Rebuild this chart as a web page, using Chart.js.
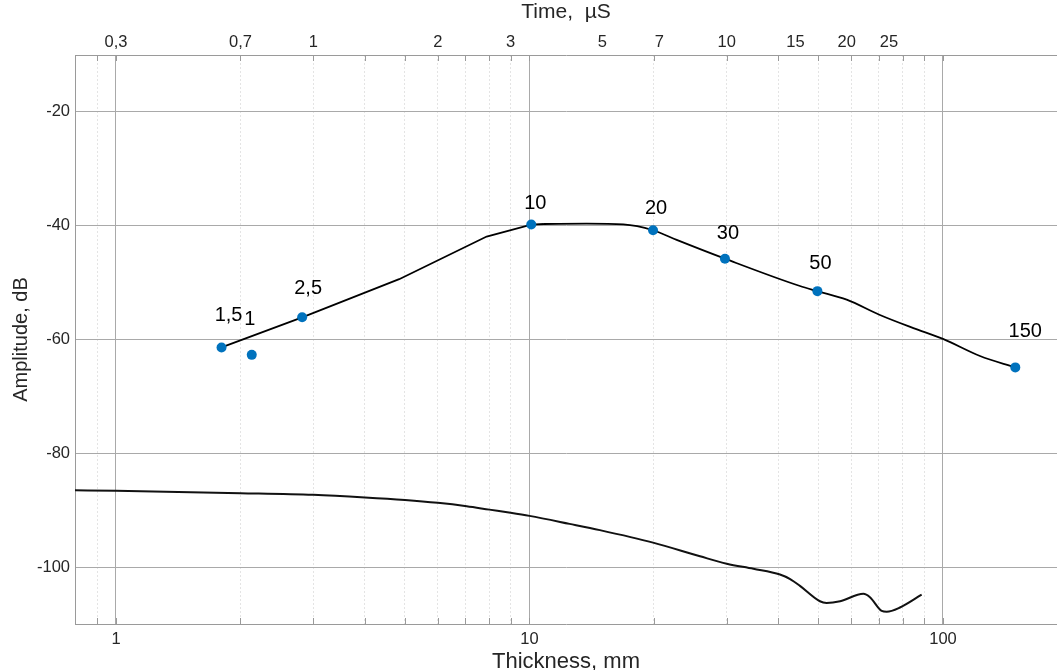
<!DOCTYPE html>
<html><head><meta charset="utf-8">
<script src="https://cdn.jsdelivr.net/npm/chart.js@4.4.0/dist/chart.umd.min.js"></script>
<style>html,body{margin:0;padding:0;background:#fff;}#wrap{width:1057px;height:670px;}</style>
</head><body><div id="wrap"><canvas id="c" width="1057" height="670"></canvas></div>
<script>
// ---- axis ranges and ticks ----
const xLimits = [0.796, 188.7];
const yLimits = [-110, -10];
const bottomTicks = [0.9, 1, 2, 3, 4, 5, 6, 7, 8, 9, 10, 20, 30, 40, 50, 60, 70, 80, 90, 100];
const bottomMajor = [1, 10, 100];
const topTickPositions = [1, 2, 3, 6, 9, 15, 20.6, 30, 44, 58.5, 74];
const topTickLabels = ['0,3', '0,7', '1', '2', '3', '5', '7', '10', '15', '20', '25'];
const yTicks = [-100, -80, -60, -40, -20];

// ---- measured points (blue) ----
const pointThickness = [1.80, 2.13, 2.82, 10.1, 19.9, 29.7, 49.7, 149.6];
const pointAmplitude = [-61.4, -62.7, -56.1, -39.8, -40.8, -45.8, -51.5, -64.9];
const pointLabels = ['1,5', '1', '2,5', '10', '20', '30', '50', '150'];

// ---- upper curve (straight part up to the plateau, smooth afterwards) ----
const upperThickness = [1.80, 2.82, 4.84, 7.88, 10.1, 10.84, 13.75, 16.86, 19.9, 22.7, 29.7, 45.1, 49.7, 58.5, 70.4, 84.8, 100, 122.9, 149.6];
const upperAmplitude = [-61.4, -56.1, -49.4, -41.9, -39.8, -39.7, -39.65, -39.77, -40.8, -42.5, -45.8, -50.6, -51.5, -53.0, -55.7, -58.0, -59.9, -62.9, -64.9];
const upperBreak = 5; // index where the curve turns smooth

// ---- lower curve ----
const lowerThickness = [0.79, 1.0, 2.0, 3.0, 4.0, 5.0, 6.0, 7.05, 8.0, 9.0, 10, 12.5, 14.8, 19.9, 25.85, 30.0, 34.8, 40.35, 42.7, 45.1, 50.4, 52.3, 56.4, 64.2, 66.6, 71.1, 73.1, 78.7, 88.8];
const lowerAmplitude = [-86.5, -86.6, -87.0, -87.3, -87.75, -88.2, -88.7, -89.3, -89.9, -90.45, -91.0, -92.4, -93.5, -95.7, -98.1, -99.4, -100.3, -101.3, -102.1, -103.3, -106.0, -106.3, -106.0, -104.7, -105.3, -107.7, -107.85, -107.1, -104.85];

const FONT = '"Liberation Sans", Arial, Helvetica, sans-serif';
const TXT = '#262626';
const GRID_MAJOR = '#a9a9a9';
const GRID_MINOR = '#e4e4e4';
const AXIS = '#9a9a9a';

const toXY = (xs, ys) => xs.map((x, i) => ({x: x, y: ys[i]}));
const upperXY = toXY(upperThickness, upperAmplitude);

const extras = {
  id: 'extras',
  afterDatasetsDraw(chart, args, opts) {
    const ctx = chart.ctx;
    const meta = chart.getDatasetMeta(0);
    ctx.save();
    ctx.font = '20px ' + FONT;
    ctx.fillStyle = '#000';
    ctx.textAlign = 'center';
    ctx.textBaseline = 'middle';
    meta.data.forEach((el, i) => {
      const o = opts.labelOffsets[i] || [0, -25];
      ctx.fillText(pointLabels[i], el.x + o[0], el.y + o[1]);
    });
    ctx.restore();
  },
  afterDraw(chart, args, opts) {
    const ctx = chart.ctx;
    const xs = chart.scales.x;
    const a = chart.chartArea;
    ctx.save();
    ctx.strokeStyle = AXIS;
    ctx.lineWidth = 1;
    bottomTicks.forEach(v => {
      const px = Math.round(xs.getPixelForValue(v)) + 0.5;
      ctx.beginPath();
      ctx.moveTo(px, a.top); ctx.lineTo(px, a.top + opts.tickLen);
      ctx.moveTo(px, a.bottom); ctx.lineTo(px, a.bottom - opts.tickLen);
      ctx.stroke();
    });
    ctx.restore();
  }
};

new Chart(document.getElementById('c'), {
  type: 'scatter',
  data: {
    datasets: [
      {
        label: 'points',
        data: toXY(pointThickness, pointAmplitude),
        backgroundColor: '#0072BD',
        borderColor: '#0072BD',
        pointRadius: 5,
        pointBorderWidth: 0,
        showLine: false,
        order: 0
      },
      {
        label: 'upper (rise)',
        data: upperXY.slice(0, upperBreak + 1),
        showLine: true,
        borderColor: '#000',
        borderWidth: 1.8,
        pointRadius: 0,
        tension: 0,
        order: 1
      },
      {
        label: 'upper (fall)',
        data: upperXY.slice(upperBreak),
        showLine: true,
        borderColor: '#000',
        borderWidth: 1.8,
        pointRadius: 0,
        cubicInterpolationMode: 'monotone',
        order: 1
      },
      {
        label: 'lower',
        data: toXY(lowerThickness, lowerAmplitude),
        showLine: true,
        borderColor: '#111',
        borderWidth: 2,
        pointRadius: 0,
        cubicInterpolationMode: 'monotone',
        order: 1
      }
    ]
  },
  options: {
    responsive: false,
    animation: false,
    devicePixelRatio: 1,
    layout: {padding: 0, autoPadding: false},
    plugins: {
      legend: {display: false},
      tooltip: {enabled: false},
      extras: {
        tickLen: 6,
        labelOffsets: [[7, -32], [-2, -35], [6, -29], [4, -21], [3, -22], [3, -25], [3, -28], [10, -36]]
      }
    },
    scales: {
      x: {
        type: 'logarithmic',
        position: 'bottom',
        min: xLimits[0],
        max: xLimits[1],
        afterBuildTicks: s => { s.ticks = bottomTicks.map(v => ({value: v})); },
        afterFit: s => { s.height = 46; },
        ticks: {
          autoSkip: false,
          maxRotation: 0,
          minRotation: 0,
          padding: 6,
          color: TXT,
          font: {family: FONT, size: 16.5},
          callback: v => bottomMajor.includes(v) ? String(v) : ''
        },
        grid: {
          drawTicks: false,
          color: c => (c.tick && bottomMajor.includes(c.tick.value)) ? GRID_MAJOR : GRID_MINOR,
          lineWidth: 1
        },
        border: {
          display: true,
          color: AXIS,
          width: 1,
          dash: c => (c.tick && !bottomMajor.includes(c.tick.value)) ? [2, 2] : []
        },
        title: {
          display: true,
          text: 'Thickness, mm',
          color: TXT,
          font: {family: FONT, size: 22},
          padding: {top: 0, bottom: -5.6}
        }
      },
      x2: {
        type: 'logarithmic',
        axis: 'x',
        position: 'top',
        min: xLimits[0],
        max: xLimits[1],
        afterBuildTicks: s => { s.ticks = topTickPositions.map(v => ({value: v})); },
        afterFit: s => { s.height = 55; },
        ticks: {
          autoSkip: false,
          maxRotation: 0,
          minRotation: 0,
          padding: 3,
          color: TXT,
          font: {family: FONT, size: 16.5},
          callback: (v, i) => topTickLabels[i]
        },
        grid: {display: false, drawTicks: false},
        border: {display: true, color: AXIS, width: 1},
        title: {
          display: true,
          text: 'Time,  µS',
          color: TXT,
          font: {family: FONT, size: 21},
          padding: {top: 0, bottom: 0}
        }
      },
      y: {
        type: 'linear',
        position: 'left',
        min: yLimits[0],
        max: yLimits[1],
        afterBuildTicks: s => { s.ticks = yTicks.map(v => ({value: v})); },
        afterFit: s => { s.width = 75; },
        ticks: {
          padding: 5,
          color: TXT,
          font: {family: FONT, size: 16.5},
          callback: v => String(v)
        },
        grid: {drawTicks: false, color: GRID_MAJOR, lineWidth: 1},
        border: {display: true, color: AXIS, width: 1},
        title: {
          display: true,
          text: 'Amplitude, dB',
          color: TXT,
          font: {family: FONT, size: 20},
          padding: {top: 9, bottom: 0}
        }
      }
    }
  },
  plugins: [extras]
});
</script>
</body></html>
